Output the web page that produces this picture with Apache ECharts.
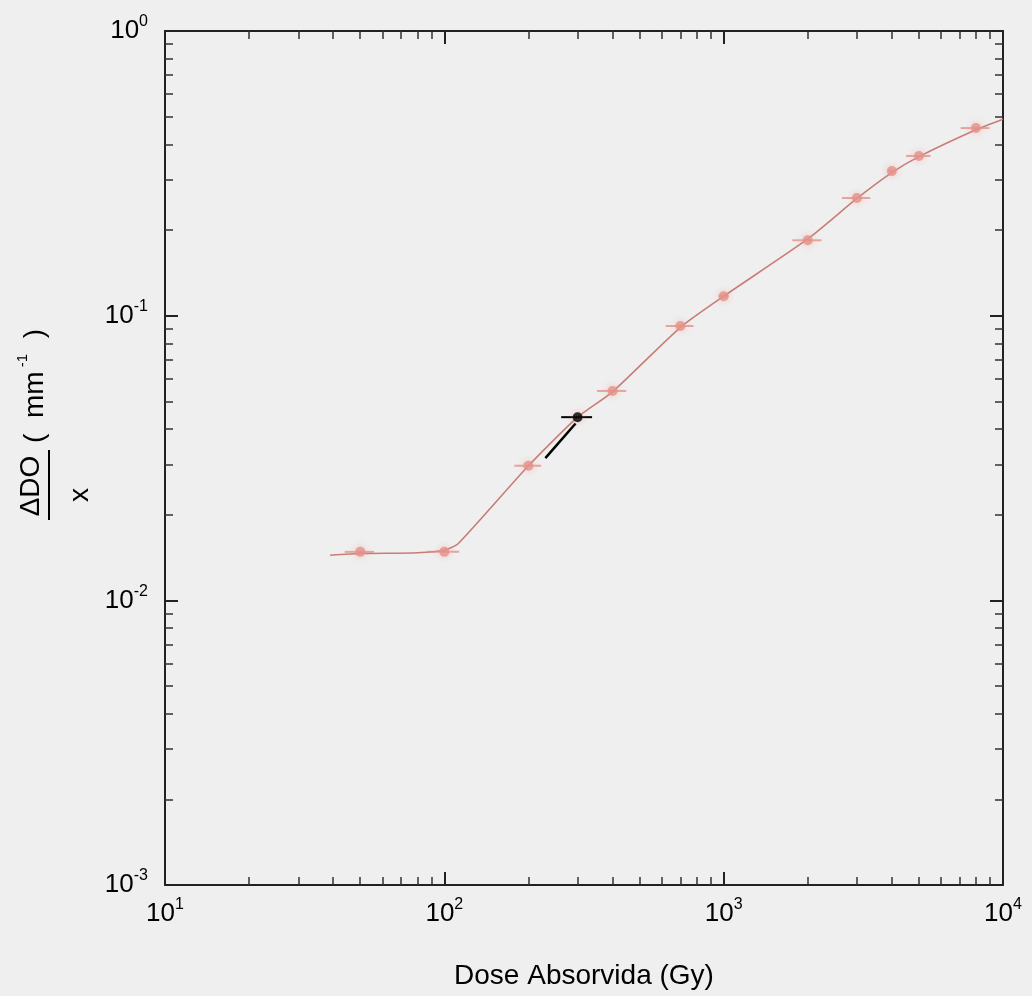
<!DOCTYPE html>
<html>
<head>
<meta charset="utf-8">
<script src="https://cdn.jsdelivr.net/npm/echarts@6/dist/echarts.min.js"></script>
<style>
  html, body { margin: 0; padding: 0; background: #efefef; }
  #chart { width: 1032px; height: 996px; }
</style>
</head>
<body>
<div id="chart"></div>
<script>
// dose absorvida (Gy)
const dose = [50, 100, 200, 300, 400, 700, 1000, 2000, 3000, 4000, 5000, 8000];
// ΔDO / x  (mm^-1)
const response = [0.0148, 0.0148, 0.0297, 0.044, 0.0544, 0.092, 0.117, 0.184, 0.259, 0.322, 0.364, 0.456];
// half width of the horizontal error bar (Gy)
const doseErr = [6, 13, 22, 38, 48, 80, 40, 240, 350, 120, 500, 950];
// hand drawn guide curve through the points
const curveDose = [39, 50, 80, 100, 112, 200, 300, 400, 700, 1000, 2000, 3000, 4000, 5000, 8000, 10000];
const curveValue = [0.0144, 0.0146, 0.0147, 0.0150, 0.0158, 0.0297, 0.044, 0.054, 0.091, 0.117, 0.186, 0.258, 0.318, 0.362, 0.45, 0.49];
// dark pen stroke near 300 Gy
const penDose = [230, 295];
const penValue = [0.0316, 0.0418];
const penPoint = 3;

function powLabel(v) {
  const e = Math.round(Math.log10(v));
  return '{b|10}{s|' + e + '}';
}

const labelRich = {
  b: { fontSize: 26, fontFamily: 'Liberation Sans', color: '#000', lineHeight: 34 },
  s: { fontSize: 16, fontFamily: 'Liberation Sans', color: '#000', lineHeight: 16, verticalAlign: 'top' }
};

function logAxis(extra) {
  return Object.assign({
    type: 'log',
    logBase: 10,
    axisLine: { show: true, onZero: false, lineStyle: { color: '#222', width: 2 } },
    axisTick: { show: true, inside: true, length: 13, lineStyle: { color: '#222', width: 2 } },
    minorTick: { show: true, splitNumber: 9, length: 8, lineStyle: { color: '#333', width: 1.5 } },
    splitLine: { show: false },
    minorSplitLine: { show: false }
  }, extra);
}

const chart = echarts.init(document.getElementById('chart'));

const option = {
  backgroundColor: '#efefef',
  animation: false,
  grid: { left: 165, right: 29, top: 31, bottom: 111, show: false },
  xAxis: [
    logAxis({
      position: 'bottom', min: 10, max: 10000,
      name: 'Dose Absorvida (Gy)', nameLocation: 'middle', nameGap: 77,
      nameTextStyle: { fontSize: 28, fontFamily: 'Liberation Sans', color: '#000' },
      axisLabel: { margin: 12, formatter: powLabel, rich: labelRich }
    }),
    logAxis({ position: 'top', min: 10, max: 10000, axisLabel: { show: false } })
  ],
  yAxis: [
    logAxis({
      position: 'left', min: 0.001, max: 1,
      axisLabel: { margin: 17, formatter: powLabel, rich: labelRich }
    }),
    logAxis({ position: 'right', min: 0.001, max: 1, axisLabel: { show: false } })
  ],
  series: [
    {
      type: 'line',
      smooth: 0.2,
      showSymbol: false,
      data: curveDose.map((d, i) => [d, curveValue[i]]),
      lineStyle: { color: '#c97d75', width: 1.6 },
      z: 2
    },
    {
      type: 'line',
      showSymbol: false,
      data: penDose.map((d, i) => [d, penValue[i]]),
      lineStyle: { color: '#000', width: 2.5 },
      z: 3
    },
    {
      type: 'custom',
      renderItem: function (params, api) {
        const y = api.value(1);
        const lo = api.coord([api.value(2), y]);
        const hi = api.coord([api.value(3), y]);
        const dark = params.dataIndex === penPoint;
        return {
          type: 'line',
          shape: { x1: lo[0], y1: lo[1], x2: hi[0], y2: hi[1] },
          style: { stroke: dark ? '#000' : 'rgba(226,140,130,0.75)', lineWidth: 2 }
        };
      },
      encode: { x: [0, 2, 3], y: 1 },
      data: dose.map((d, i) => [d, response[i], d - doseErr[i], d + doseErr[i]]),
      z: 4
    },
    {
      type: 'scatter',
      symbol: 'circle',
      symbolSize: 10,
      data: dose.map((d, i) => ({
        value: [d, response[i]],
        itemStyle: i === penPoint ? { color: '#000' } : undefined
      })),
      itemStyle: { color: '#e3918a', shadowBlur: 7, shadowColor: 'rgba(240,150,140,0.6)' },
      z: 5
    }
  ],
  graphic: [
    {
      type: 'text', x: 31, y: 486, rotation: Math.PI / 2,
      style: { text: 'ΔDO', fontSize: 28, fontFamily: 'Liberation Sans', fill: '#000', align: 'center', verticalAlign: 'middle' }
    },
    {
      type: 'line',
      shape: { x1: 49, y1: 450, x2: 49, y2: 520 },
      style: { stroke: '#000', lineWidth: 2 }
    },
    {
      type: 'text', x: 80, y: 495, rotation: Math.PI / 2,
      style: { text: 'x', fontSize: 28, fontFamily: 'Liberation Sans', fill: '#000', align: 'center', verticalAlign: 'middle' }
    },
    {
      type: 'text', x: 35, y: 386, rotation: Math.PI / 2,
      style: {
        text: '{p|(  }{b|mm}{s| -1}{p|  )}',
        align: 'center', verticalAlign: 'middle',
        rich: {
          p: { fontSize: 28, fontFamily: 'Liberation Sans', fill: '#000', lineHeight: 40 },
          b: { fontSize: 28, fontFamily: 'Liberation Sans', fill: '#000', lineHeight: 40 },
          s: { fontSize: 15, fontFamily: 'Liberation Sans', fill: '#000', lineHeight: 15, verticalAlign: 'top' }
        }
      }
    }
  ]
};

chart.setOption(option);
</script>
</body>
</html>
